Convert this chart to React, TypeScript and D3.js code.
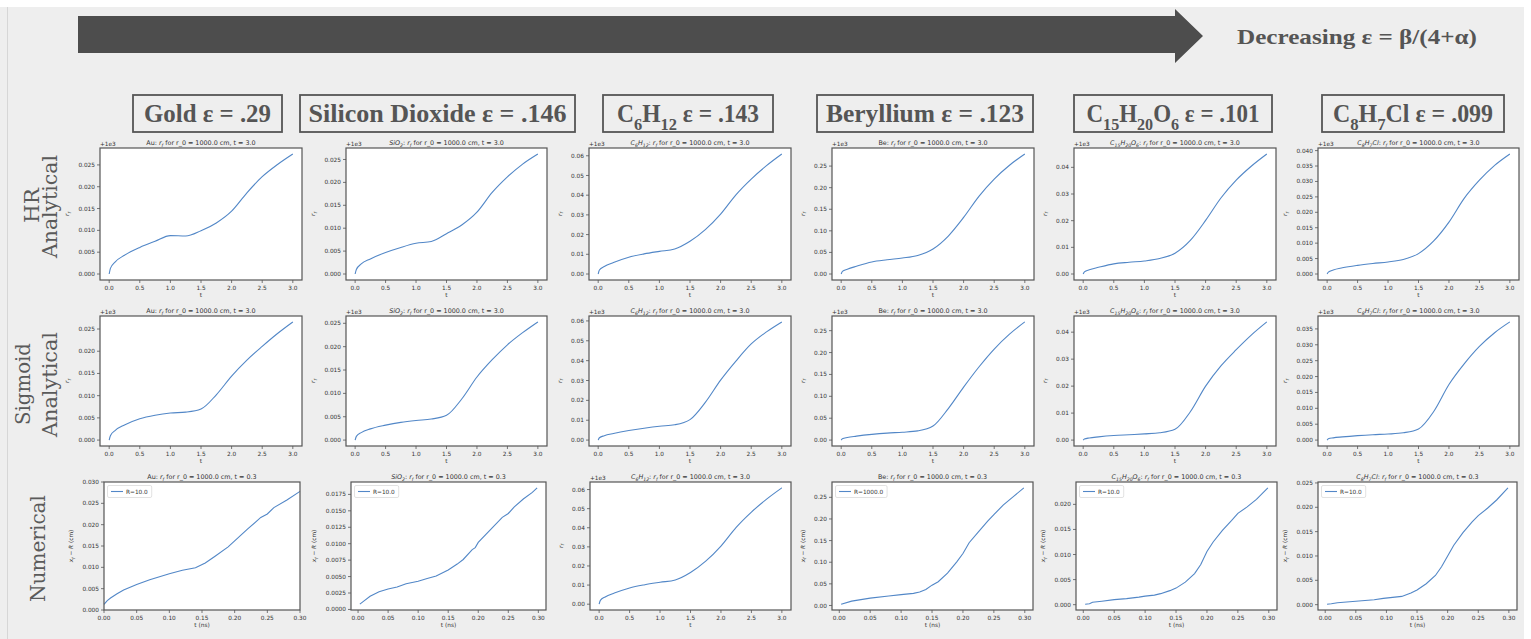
import React from "react";
import * as d3 from "d3";

// ---------------- data ----------------
const SPECIES = ["Au", "SiO2", "C6H12", "Be", "C15H20O6", "C8H7Cl"];
const HEADER_NAMES = ["Gold", "Silicon Dioxide", "C6H12", "Beryllium", "C15H20O6", "C8H7Cl"];
const EPSILON_LABELS = [".29", ".146", ".143", ".123", ".101", ".099"];
const ROW_LABELS = [["HR", "Analytical"], ["Sigmoid", "Analytical"], ["Numerical"]];
const TOP_LABEL = "Decreasing ε = β/(4+α)";

const T_ANALYTIC = [0, 0.02, 0.1, 0.25, 0.5, 0.75, 1.0, 1.25, 1.5, 1.75, 2.0, 2.25, 2.5, 2.75, 3.0];

// HR analytical
const HR_AU = [0, 0.0013, 0.0028, 0.0043, 0.0061, 0.0075, 0.0088, 0.0087, 0.0099, 0.0117, 0.0144, 0.0186, 0.0223, 0.0251, 0.0275];
const HR_SIO2 = [0, 0.001, 0.0022, 0.0033, 0.0047, 0.0058, 0.0067, 0.0071, 0.0088, 0.0107, 0.0135, 0.0178, 0.0212, 0.024, 0.0262];
const HR_C6H12 = [0, 0.002, 0.0038, 0.0058, 0.0085, 0.0102, 0.0115, 0.0127, 0.0166, 0.0225, 0.0304, 0.0402, 0.0482, 0.055, 0.0609];
const HR_BE = [0, 0.006, 0.011, 0.018, 0.028, 0.033, 0.037, 0.043, 0.058, 0.088, 0.131, 0.18, 0.22, 0.252, 0.278];
const HR_C15H20O6 = [0, 0.0008, 0.0016, 0.0025, 0.0038, 0.0044, 0.0049, 0.0058, 0.0078, 0.0126, 0.0201, 0.0285, 0.0352, 0.0405, 0.045];
const HR_C8H7CL = [0, 0.0006, 0.0013, 0.002, 0.0028, 0.0034, 0.0039, 0.0047, 0.0066, 0.0107, 0.0168, 0.0245, 0.0304, 0.0352, 0.0389];

// Sigmoid analytical
const SIG_AU = [0, 0.001, 0.0022, 0.0034, 0.0048, 0.0056, 0.0061, 0.0063, 0.007, 0.0102, 0.0144, 0.018, 0.0211, 0.024, 0.0266];
const SIG_SIO2 = [0, 0.0008, 0.0016, 0.0024, 0.0032, 0.0038, 0.0042, 0.0045, 0.0053, 0.0088, 0.0135, 0.0172, 0.0204, 0.023, 0.0253];
const SIG_C6H12 = [0, 0.0012, 0.0022, 0.0033, 0.0048, 0.006, 0.007, 0.0077, 0.0103, 0.019, 0.0302, 0.0398, 0.0484, 0.0545, 0.0595];
const SIG_BE = [0, 0.003, 0.006, 0.009, 0.013, 0.016, 0.018, 0.021, 0.032, 0.072, 0.121, 0.167, 0.208, 0.242, 0.27];
const SIG_C15H20O6 = [0, 0.0004, 0.0008, 0.0012, 0.0017, 0.002, 0.0023, 0.0027, 0.004, 0.0105, 0.02, 0.0275, 0.0335, 0.039, 0.0438];
const SIG_C8H7CL = [0, 0.0004, 0.0007, 0.001, 0.0014, 0.0017, 0.0019, 0.0023, 0.0035, 0.009, 0.0175, 0.024, 0.0295, 0.0338, 0.0372];

// Numerical row (C6H12 column shows an analytical curve)
const ROW3_C6H12 = [0, 0.002, 0.0038, 0.0058, 0.0085, 0.0102, 0.0115, 0.0127, 0.0166, 0.0225, 0.0304, 0.0402, 0.0482, 0.055, 0.0609];

const NUM_T_AU = [0.0, 0.005, 0.01, 0.02, 0.03, 0.05, 0.07, 0.1, 0.12, 0.14, 0.155, 0.17, 0.19, 0.2, 0.22, 0.24, 0.25, 0.26, 0.28, 0.3];
const NUM_AU = [0.0013, 0.0022, 0.0028, 0.0038, 0.0047, 0.006, 0.0071, 0.0085, 0.0093, 0.0099, 0.011, 0.0126, 0.0148, 0.0162, 0.019, 0.0217, 0.0225, 0.024, 0.0258, 0.0278];

const NUM_T_SIO2 = [0.003, 0.01, 0.02, 0.035, 0.05, 0.065, 0.08, 0.1, 0.115, 0.13, 0.15, 0.165, 0.175, 0.19, 0.195, 0.2, 0.22, 0.24, 0.25, 0.26, 0.275, 0.29, 0.298];
const NUM_SIO2 = [0.0008, 0.0013, 0.002, 0.0027, 0.0031, 0.0034, 0.0039, 0.0043, 0.0047, 0.0051, 0.006, 0.0069, 0.0076, 0.0091, 0.0094, 0.0102, 0.0121, 0.014, 0.0146, 0.0156, 0.0168, 0.0178, 0.0185];

const NUM_T_BE = [0.003, 0.02, 0.05, 0.08, 0.1, 0.12, 0.13, 0.14, 0.15, 0.16, 0.175, 0.19, 0.2, 0.21, 0.225, 0.24, 0.25, 0.265, 0.28, 0.2985];
const NUM_BE = [0.003, 0.01, 0.017, 0.022, 0.025, 0.028, 0.031, 0.037, 0.047, 0.055, 0.075, 0.101, 0.12, 0.145, 0.17, 0.195, 0.21, 0.232, 0.25, 0.272];

const NUM_T_C15H20O6 = [0.003, 0.01, 0.015, 0.03, 0.05, 0.07, 0.09, 0.1, 0.115, 0.125, 0.14, 0.15, 0.165, 0.18, 0.19, 0.2, 0.21, 0.225, 0.24, 0.25, 0.265, 0.28, 0.2985];
const NUM_C15H20O6 = [0.0001, 0.0002, 0.0005, 0.0007, 0.001, 0.0012, 0.0015, 0.0017, 0.0019, 0.0022, 0.0028, 0.0033, 0.0045, 0.0062, 0.008, 0.0106, 0.0125, 0.0148, 0.0168, 0.0182, 0.0195, 0.021, 0.0233];

const NUM_T_C8H7CL = [0.003, 0.01, 0.02, 0.04, 0.06, 0.08, 0.095, 0.11, 0.125, 0.14, 0.15, 0.165, 0.18, 0.19, 0.2, 0.21, 0.225, 0.24, 0.25, 0.265, 0.28, 0.2985];
const NUM_C8H7CL = [0.0001, 0.0002, 0.0004, 0.0006, 0.0008, 0.001, 0.0013, 0.0015, 0.0017, 0.0024, 0.003, 0.0043, 0.006, 0.0078, 0.01, 0.0122, 0.0148, 0.017, 0.0183, 0.0198, 0.0215, 0.024];

const LEGEND_LABELS = ["R=10.0", "R=10.0", null, "R=1000.0", "R=10.0", "R=10.0"];

// tick label steps / decimals per row
const Y_STEP = [
  [0.005, 0.005, 0.01, 0.05, 0.01, 0.005],
  [0.005, 0.005, 0.01, 0.05, 0.01, 0.005],
  [0.005, 0.0025, 0.01, 0.05, 0.005, 0.005],
];
const Y_DEC = [
  [3, 3, 2, 2, 2, 3],
  [3, 3, 2, 2, 2, 3],
  [3, 4, 2, 2, 3, 3],
];
const X_TICKS_ANALYTIC = [0, 0.5, 1.0, 1.5, 2.0, 2.5, 3.0];
const X_TICKS_NUM = [0, 0.05, 0.1, 0.15, 0.2, 0.25, 0.3];

// ---------------- layout ----------------
const W = 1531;
const H = 639;
const COL_X = [[100, 302], [346, 547], [589, 791], [832, 1034], [1074, 1276], [1318, 1519]];
const ROW3_X = [[104, 300], [351, 546], [590, 791], [832, 1033], [1076, 1277], [1318, 1517]];
const ROW_Y = [[148, 280], [316, 446], [482, 610]];
const HEADER_BOX_X = [[133, 282], [300, 575], [603, 773], [817, 1033], [1074, 1272], [1322, 1504]];
const HEADER_TEXT_W = [127, 258, 142, 198, 173, 160];
const ROW_LABEL_LAYOUT = [
  [{ x: 39, y: 205.5, len: 35 }, { x: 57, y: 206.5, len: 103 }],
  [{ x: 30, y: 384, len: 82 }, { x: 57, y: 384.5, len: 105 }],
  [{ x: 45, y: 548.5, len: 107 }],
];

const PLOT_FONT = "'DejaVu Sans', sans-serif";
const LINE_COLOR = "#5287c7";
const TEXT_COLOR = "#333";
const GREY_TEXT = "#555";

type Seg = { t: string; sub?: boolean; it?: boolean };

function formulaSegs(s: string, italic: boolean): Seg[] {
  return s
    .split(/(\d+)/)
    .filter((p) => p.length > 0)
    .map((p) => ({ t: p, sub: /^\d+$/.test(p), it: italic }));
}

function Rich({ segs, size, subScale = 0.72, subShift }: { segs: Seg[]; size: number; subScale?: number; subShift: number }) {
  let shifted = false;
  return (
    <>
      {segs.map((s, i) => {
        let dy = 0;
        if (s.sub && !shifted) {
          dy = subShift;
          shifted = true;
        } else if (!s.sub && shifted) {
          dy = -subShift;
          shifted = false;
        }
        return (
          <tspan key={i} dy={dy !== 0 ? dy : undefined} fontSize={s.sub ? size * subScale : size} fontStyle={s.it ? "italic" : "normal"}>
            {s.t}
          </tspan>
        );
      })}
    </>
  );
}

type PanelSpec = {
  row: number;
  col: number;
  analytic: boolean;
  t: number[];
  v: number[];
  xr: number[];
  yr: number[];
  yStep: number;
  yDec: number;
  tmax: string;
  legend: string | null;
  xDomain?: [number, number];
  yDomain?: [number, number];
};

function pad(ext: [number, number]): [number, number] {
  const r = ext[1] - ext[0];
  return [ext[0] - 0.05 * r, ext[1] + 0.05 * r];
}

function Panel({ p }: { p: PanelSpec }) {
  const [x0, x1] = p.xr;
  const [y0, y1] = p.yr;
  const pts = p.t.map((t, i) => [t, p.v[i]] as [number, number]);
  const xd = p.xDomain ?? pad(d3.extent(p.t) as [number, number]);
  const yd = p.yDomain ?? pad(d3.extent(p.v) as [number, number]);
  const x = d3.scaleLinear().domain(xd).range([x0, x1]);
  const y = d3.scaleLinear().domain(yd).range([y1, y0]);
  const line = d3
    .line<[number, number]>()
    .x((d) => x(d[0]))
    .y((d) => y(d[1]))
    .curve(p.analytic ? d3.curveMonotoneX : d3.curveLinear);
  const xTicks = p.analytic ? X_TICKS_ANALYTIC : X_TICKS_NUM;
  const xFmt = d3.format(p.analytic ? ".1f" : ".2f");
  const nY = Math.floor(yd[1] / p.yStep + 1e-6);
  const yTicks = d3.range(0, nY + 1).map((i) => i * p.yStep).filter((v) => v >= yd[0] - 1e-12);
  const yFmt = d3.format(`.${p.yDec}f`);
  const maxLabelLen = d3.max(yTicks, (v) => yFmt(v).length) || 4;
  const ylabX = x0 - (8 + maxLabelLen * 3.6 + 5);
  const fs = 5.8;
  const molecule = /\d/.test(SPECIES[p.col]);
  const titleSegs: Seg[] = [
    ...formulaSegs(SPECIES[p.col], molecule),
    { t: ": " },
    { t: "r", it: true },
    { t: "f", sub: true, it: true },
    { t: ` for r_0 = 1000.0 cm, t = ${p.tmax}` },
  ];
  const ylabSegs: Seg[] = p.analytic
    ? [{ t: "r", it: true }, { t: "f", sub: true, it: true }]
    : [{ t: "x", it: true }, { t: "f", sub: true, it: true }, { t: " − " }, { t: "R", it: true }, { t: " (cm)" }];
  const legendW = p.legend ? 22 + p.legend.length * 3.7 : 0;
  return (
    <g fontFamily={PLOT_FONT} fill={TEXT_COLOR}>
      <rect x={x0} y={y0} width={x1 - x0} height={y1 - y0} fill="#fff" />
      <path d={line(pts) || ""} fill="none" stroke={LINE_COLOR} strokeWidth={1.1} />
      <rect x={x0} y={y0} width={x1 - x0} height={y1 - y0} fill="none" stroke="#555" strokeWidth={1.2} />
      {xTicks.map((v) => (
        <g key={`x${v}`}>
          <line x1={x(v)} x2={x(v)} y1={y1} y2={y1 + 3} stroke="#555" strokeWidth={0.8} />
          <text x={x(v)} y={y1 + 9.5} fontSize={fs} textAnchor="middle">
            {xFmt(v)}
          </text>
        </g>
      ))}
      {yTicks.map((v) => (
        <g key={`y${v}`}>
          <line x1={x0 - 3} x2={x0} y1={y(v)} y2={y(v)} stroke="#555" strokeWidth={0.8} />
          <text x={x0 - 5} y={y(v)} dy="0.35em" fontSize={fs} textAnchor="end">
            {yFmt(v)}
          </text>
        </g>
      ))}
      <text x={(x0 + x1) / 2} y={y1 + 17} fontSize={fs} textAnchor="middle">
        {p.analytic ? "t" : "t (ns)"}
      </text>
      <text transform={`translate(${ylabX},${(y0 + y1) / 2}) rotate(-90)`} fontSize={fs} textAnchor="middle">
        <Rich segs={ylabSegs} size={fs} subShift={1.5} />
      </text>
      <text x={(x0 + x1) / 2} y={y0 - 3} fontSize={6.4} textAnchor="middle">
        <Rich segs={titleSegs} size={6.4} subShift={1.5} />
      </text>
      {p.analytic && (
        <text x={x0} y={y0 - 2} fontSize={fs}>
          +1e3
        </text>
      )}
      {p.legend && (
        <g>
          <rect x={x0 + 3.5} y={y0 + 3.5} width={legendW} height={12} rx={1.5} fill="#fff" stroke="#d5d5d5" strokeWidth={0.7} />
          <line x1={x0 + 7} x2={x0 + 19} y1={y0 + 9.5} y2={y0 + 9.5} stroke={LINE_COLOR} strokeWidth={1.1} />
          <text x={x0 + 22} y={y0 + 9.5} dy="0.35em" fontSize={fs}>
            {p.legend}
          </text>
        </g>
      )}
    </g>
  );
}

function buildPanels(): PanelSpec[] {
  const hr = [HR_AU, HR_SIO2, HR_C6H12, HR_BE, HR_C15H20O6, HR_C8H7CL];
  const sig = [SIG_AU, SIG_SIO2, SIG_C6H12, SIG_BE, SIG_C15H20O6, SIG_C8H7CL];
  const numT = [NUM_T_AU, NUM_T_SIO2, T_ANALYTIC, NUM_T_BE, NUM_T_C15H20O6, NUM_T_C8H7CL];
  const numV = [NUM_AU, NUM_SIO2, ROW3_C6H12, NUM_BE, NUM_C15H20O6, NUM_C8H7CL];
  const out: PanelSpec[] = [];
  for (let c = 0; c < 6; c++) {
    const xDom: [number, number] = [-0.15, 3.15];
    out.push({ row: 0, col: c, analytic: true, t: T_ANALYTIC, v: hr[c], xr: COL_X[c], yr: ROW_Y[0], yStep: Y_STEP[0][c], yDec: Y_DEC[0][c], tmax: "3.0", legend: null, xDomain: xDom });
    out.push({ row: 1, col: c, analytic: true, t: T_ANALYTIC, v: sig[c], xr: COL_X[c], yr: ROW_Y[1], yStep: Y_STEP[1][c], yDec: Y_DEC[1][c], tmax: "3.0", legend: null, xDomain: xDom });
    const analytic3 = c === 2;
    out.push({
      row: 2,
      col: c,
      analytic: analytic3,
      t: numT[c],
      v: numV[c],
      xr: ROW3_X[c],
      yr: ROW_Y[2],
      yStep: Y_STEP[2][c],
      yDec: Y_DEC[2][c],
      tmax: analytic3 ? "3.0" : "0.3",
      legend: LEGEND_LABELS[c],
      xDomain: analytic3 ? xDom : c === 0 ? [0, 0.3] : undefined,
      yDomain: c === 0 ? [0, 0.03] : undefined,
    });
  }
  return out;
}

export default function App() {
  const panels = buildPanels();
  const headerSize = 25;
  return (
    <svg width={W} height={H} style={{ position: "absolute", left: 0, top: 0, display: "block" }}>
      <rect x={0} y={0} width={W} height={H} fill="#fff" />
      <rect x={0} y={7} width={1524} height={H - 7} fill="#eeeeee" />
      <line x1={7.5} x2={7.5} y1={7} y2={H} stroke="#d6d6d6" strokeWidth={1} />

      {/* arrow */}
      <path d="M78,16 L1175,16 L1175,9 L1203,36 L1175,63 L1175,53 L78,53 Z" fill="#4d4d4d" />
      <text
        x={1237}
        y={44}
        fontFamily="'Liberation Serif', serif"
        fontWeight="bold"
        fontSize={21.5}
        fill={GREY_TEXT}
        textLength={240}
        lengthAdjust="spacingAndGlyphs"
      >
        {TOP_LABEL}
      </text>

      {/* column headers */}
      {HEADER_NAMES.map((name, c) => {
        const [bx0, bx1] = HEADER_BOX_X[c];
        const segs: Seg[] = [...formulaSegs(name, false), { t: ` ε = ${EPSILON_LABELS[c]}` }];
        return (
          <g key={`h${c}`}>
            <rect x={bx0} y={95} width={bx1 - bx0} height={37} fill="none" stroke="#555" strokeWidth={1.8} />
            <text
              x={(bx0 + bx1) / 2}
              y={122}
              textAnchor="middle"
              fontFamily="'Liberation Serif', serif"
              fontWeight="bold"
              fontSize={headerSize}
              fill={GREY_TEXT}
              textLength={HEADER_TEXT_W[c]}
              lengthAdjust="spacingAndGlyphs"
            >
              <Rich segs={segs} size={headerSize} subScale={0.7} subShift={8} />
            </text>
          </g>
        );
      })}

      {/* row labels */}
      {ROW_LABELS.map((lines, r) =>
        lines.map((txt, i) => {
          const L = ROW_LABEL_LAYOUT[r][i];
          return (
            <text
              key={`r${r}${i}`}
              transform={`translate(${L.x},${L.y}) rotate(-90)`}
              textAnchor="middle"
              fontFamily="'DejaVu Serif', serif"
              fontSize={20}
              fill="#5a5a5a"
              textLength={L.len}
              lengthAdjust="spacingAndGlyphs"
            >
              {txt}
            </text>
          );
        })
      )}

      {panels.map((p) => (
        <Panel key={`${p.row}-${p.col}`} p={p} />
      ))}
    </svg>
  );
}
